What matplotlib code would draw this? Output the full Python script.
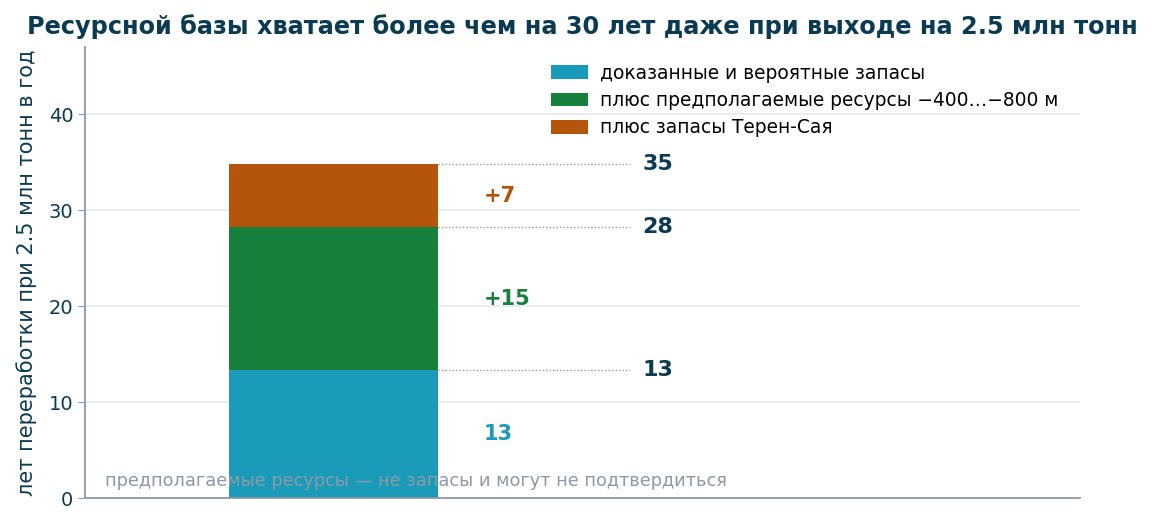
import matplotlib
matplotlib.use('Agg')
import matplotlib.pyplot as plt

# data
segments = ['доказанные и вероятные запасы',
            'плюс предполагаемые ресурсы −400…−800 м',
            'плюс запасы Терен-Сая']
values = [13.3, 14.9, 6.6]
seg_labels = ['13', '+15', '+7']
totals = [13.3, 28.2, 34.8]
total_labels = ['13', '28', '35']
colors = ['#1a9bba', '#17803d', '#b5540b']

NAVY = '#0b3a53'
GRAY = '#8d99a6'

fig = plt.figure(figsize=(11.52, 5.25), dpi=100)
ax = fig.add_axes([0.0738, 0.0514, 0.8637, 0.8591])

bottom = 0
for name, v, c, lab in zip(segments, values, colors, seg_labels):
    ax.bar(0, v, width=0.6, bottom=bottom, color=c, label=name, zorder=2)
    ax.text(0.43, bottom + v / 2, lab, color=c, fontsize=15, fontweight='bold',
            va='center', ha='left')
    bottom += v

for t, lab in zip(totals, total_labels):
    ax.plot([0.3, 0.85], [t, t], linestyle=(0, (1, 1.5)), color='#999999',
            linewidth=1, zorder=1)
    ax.text(0.885, t, lab, color=NAVY, fontsize=16, fontweight='bold',
            va='center', ha='left')

ax.set_xlim(-0.713, 2.14)
ax.set_ylim(0, 47)
ax.set_xticks([])
ax.set_yticks([0, 10, 20, 30, 40])
ax.tick_params(axis='y', labelsize=14, colors=GRAY, labelcolor=NAVY, length=5)
ax.yaxis.grid(True, color='#e6eaee', linewidth=1.2, zorder=0)
ax.set_axisbelow(True)
for s in ['top', 'right']:
    ax.spines[s].set_visible(False)
for s in ['left', 'bottom']:
    ax.spines[s].set_color(GRAY)
    ax.spines[s].set_linewidth(1.3)

ax.set_ylabel('лет переработки при 2.5 млн тонн в год', fontsize=15, color=NAVY,
              labelpad=8)
ax.set_title('Ресурсной базы хватает более чем на 30 лет даже при выходе на 2.5 млн тонн',
             fontsize=17.3, fontweight='bold', color=NAVY, pad=9)

ax.legend(loc='upper left', bbox_to_anchor=(0.451, 1.0), frameon=False,
          fontsize=13.4, handlelength=2.0, handleheight=0.75, labelspacing=0.45,
          handletextpad=0.65)

ax.text(0.02, 0.018, 'предполагаемые ресурсы — не запасы и могут не подтвердиться',
        transform=ax.transAxes, fontsize=12.8, color=GRAY, ha='left', va='bottom',
        zorder=5)

fig.savefig('out.png', dpi=100)
